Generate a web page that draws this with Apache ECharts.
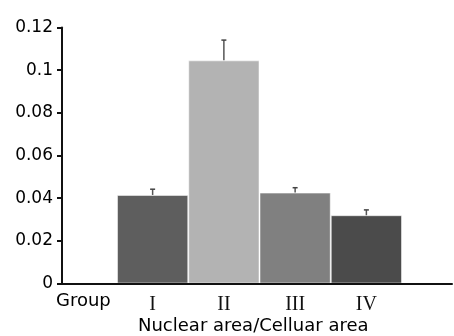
<!DOCTYPE html>
<html>
<head>
<meta charset="utf-8">
<script src="https://cdn.jsdelivr.net/npm/echarts@6/dist/echarts.min.js"></script>
<style>
html,body{margin:0;padding:0;background:#ffffff;}
#chart{width:454px;height:336px;}
</style>
</head>
<body>
<div id="chart"></div>
<script>
var categories = ['I', 'II', 'III', 'IV'];
var values = [0.0415, 0.1046, 0.0426, 0.0320];
var errors = [0.0027, 0.0095, 0.0023, 0.0025];
var barColors = ['#5e5e5e', '#b3b3b3', '#808080', '#4b4b4b'];
var yTicks = [0, 0.02, 0.04, 0.06, 0.08, 0.1, 0.12];
var groupLabel = 'Group';
var xTitle = 'Nuclear area/Celluar area';

var chart = echarts.init(document.getElementById('chart'), null, {renderer: 'canvas'});

var errData = values.map(function (v, i) { return [i, v, errors[i]]; });

var option = {
  backgroundColor: '#ffffff',
  animation: false,
  grid: [
    {left: 62, right: 2, top: 27.5, bottom: 52.5},
    {left: 117, right: 52, top: 27.5, bottom: 52.5}
  ],
  xAxis: [
    {
      gridIndex: 0, type: 'category', data: [''], z: 10,
      axisLine: {show: true, lineStyle: {color: '#111', width: 2}},
      axisTick: {show: false}, axisLabel: {show: false}, splitLine: {show: false}
    },
    {
      gridIndex: 1, type: 'category', data: categories,
      axisLine: {show: false}, axisTick: {show: false}, splitLine: {show: false},
      axisLabel: {
        margin: 11, color: '#111', fontFamily: 'Liberation Serif', fontSize: 20
      }
    }
  ],
  yAxis: [
    {
      gridIndex: 0, type: 'value', min: 0, max: 0.12, interval: 0.02, z: 10,
      axisLine: {show: true, lineStyle: {color: '#111', width: 2}},
      axisTick: {show: true, length: 5, lineStyle: {color: '#111', width: 2}},
      splitLine: {show: false},
      axisLabel: {
        margin: 9, color: '#000', fontFamily: 'DejaVu Sans', fontSize: 17,
        formatter: function (v) { return String(parseFloat(v.toFixed(2))); }
      }
    },
    {
      gridIndex: 1, type: 'value', min: 0, max: 0.12, interval: 0.02, show: false
    }
  ],
  graphic: [
    {
      type: 'text', left: 56, top: 292,
      style: {text: groupLabel, fill: '#000', font: '18px "DejaVu Sans"'}
    },
    {
      type: 'text', left: 138, top: 317,
      style: {text: xTitle, fill: '#000', font: '18px "DejaVu Sans"'}
    }
  ],
  series: [
    {
      type: 'bar', xAxisIndex: 1, yAxisIndex: 1, barWidth: '100%',
      data: values.map(function (v, i) {
        return {value: v, itemStyle: {color: barColors[i], borderColor: 'rgba(255,255,255,0.5)', borderWidth: 1}};
      })
    },
    {
      type: 'custom', xAxisIndex: 1, yAxisIndex: 1, z: 5,
      data: errData,
      renderItem: function (params, api) {
        var x = api.value(0), v = api.value(1), e = api.value(2);
        var p0 = api.coord([x, v]);
        var p1 = api.coord([x, v + e]);
        return {
          type: 'group',
          children: [
            {type: 'line', shape: {x1: p0[0], y1: p0[1], x2: p1[0], y2: p1[1]}, style: {stroke: '#555', lineWidth: 1.5}},
            {type: 'line', shape: {x1: p1[0] - 2.5, y1: p1[1], x2: p1[0] + 2.5, y2: p1[1]}, style: {stroke: '#444', lineWidth: 1.5}}
          ]
        };
      }
    }
  ]
};
chart.setOption(option);
</script>
</body>
</html>
